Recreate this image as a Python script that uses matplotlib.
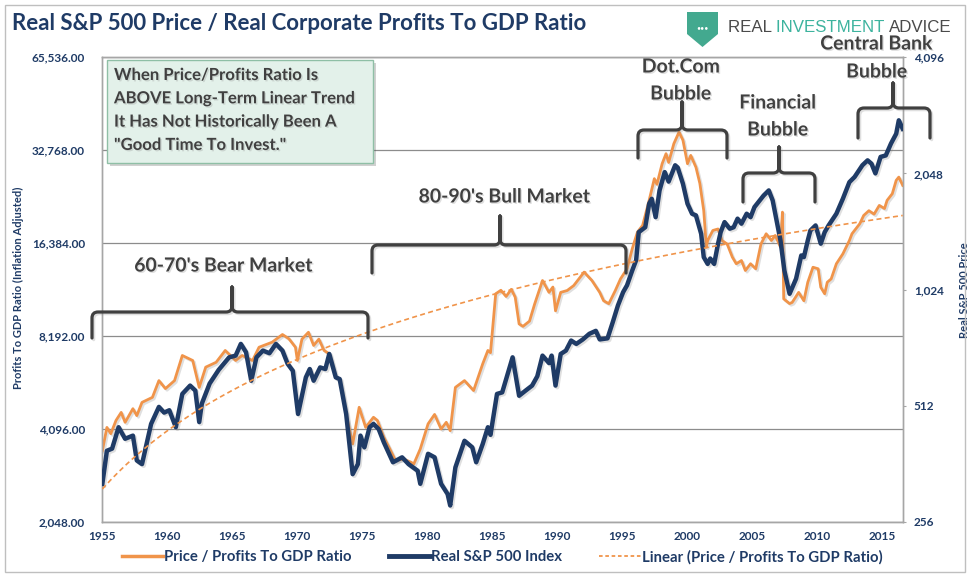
import numpy as np
import matplotlib
matplotlib.use("Agg")
import matplotlib.pyplot as plt
import matplotlib.patheffects as pe
from matplotlib.path import Path
from matplotlib.patches import PathPatch, Rectangle, Polygon
from matplotlib.lines import Line2D

plt.rcParams['font.family'] = ['Lato', 'DejaVu Sans']

# Price / Profits to GDP ratio (left axis)
ratio_years = [1955.05, 1955.4, 1955.7, 1956.1, 1956.5, 1956.8, 1957.4, 1957.7, 1958.1, 1958.9,
               1959.4, 1959.9, 1960.6, 1961.2, 1962.0, 1962.5, 1963.0, 1963.8, 1964.5, 1965.3,
               1965.8, 1966.6, 1967.1, 1968.1, 1968.9, 1969.4, 1969.9, 1970.05, 1970.4, 1970.9,
               1971.3, 1971.7, 1972.1, 1972.5, 1973.0, 1973.3, 1973.8, 1974.3, 1974.8, 1975.3,
               1975.9, 1976.2, 1976.7, 1977.1, 1977.6, 1978.2, 1978.8, 1979.0, 1979.5, 1980.1,
               1980.6, 1981.1, 1981.5, 1981.8, 1982.2, 1982.9, 1983.6, 1984.3, 1984.7, 1984.9,
               1985.3, 1985.7, 1986.1, 1986.5, 1986.8, 1987.1, 1987.4, 1987.9, 1988.3, 1988.9,
               1989.4, 1989.7, 1989.9, 1990.3, 1990.8, 1991.3, 1991.6, 1992.1, 1992.7, 1993.3,
               1993.6, 1994.0, 1994.5, 1994.9, 1995.4, 1995.8, 1996.2, 1996.6, 1997.1, 1997.5,
               1997.7, 1998.1, 1998.4, 1998.6, 1999.0, 1999.4, 1999.7, 2000.05, 2000.3, 2000.7,
               2001.0, 2001.3, 2001.5, 2001.6, 2002.0, 2002.4, 2002.7, 2003.1, 2003.5, 2003.8,
               2004.2, 2004.5, 2004.9, 2005.3, 2005.7, 2006.1, 2006.5, 2006.8, 2007.2, 2007.35,
               2007.45, 2007.9, 2008.1, 2008.6, 2009.0, 2009.3, 2009.7, 2010.1, 2010.3, 2010.6,
               2010.8, 2011.1, 2011.5, 2012.0, 2012.5, 2012.7, 2013.3, 2013.6, 2014.0, 2014.4,
               2014.8, 2015.2, 2015.4, 2015.8, 2016.1, 2016.3, 2016.6]
ratio_vals = [3480, 4140, 3950, 4360, 4630, 4300, 4760, 4520, 4990, 5180,
              5870, 5530, 5870, 7080, 6820, 5580, 6490, 6730, 7350, 6820,
              7080, 6820, 7530, 7815, 8280, 8020, 7530, 6820, 8000, 8420,
              7630, 8000, 7350, 7170, 6017, 5950, 4570, 3660, 4810, 4140,
              4465, 4360, 3845, 3565, 3230, 3270, 3190, 3150, 3525, 4250,
              4560, 4090, 4300, 4040, 5580, 5870, 5450, 6650, 7350, 7230,
              11220, 11520, 11000, 11600, 10940, 8960, 8800, 9150, 10410, 12390,
              11340, 11800, 9880, 11340, 11500, 11930, 12390, 13190, 12390, 11340,
              10650, 10420, 11500, 12540, 13520, 15700, 17780, 18700, 22530, 26490,
              25400, 29620, 31920, 29900, 34400, 37530, 35300, 29620, 31520, 28850,
              25570, 20860, 15900, 16700, 18000, 18200, 16700, 16270, 14750, 14040,
              14380, 13350, 14040, 13520, 16270, 17560, 16700, 17340, 15900, 20640,
              10800, 10430, 10520, 11340, 10650, 12230, 13680, 13520, 11780, 11220,
              12230, 12540, 14040, 15120, 16700, 17560, 18930, 20130, 20860, 20330,
              21700, 21200, 22530, 23680, 26160, 26800, 25200]

# Real S&P 500 index (right axis)
spx_years = [1955.05, 1955.4, 1955.8, 1956.3, 1956.8, 1957.4, 1957.7, 1958.1, 1958.8, 1959.4,
             1959.8, 1960.2, 1960.7, 1961.2, 1961.8, 1962.2, 1962.5, 1962.7, 1963.3, 1964.0,
             1964.8, 1965.3, 1965.7, 1966.1, 1966.5, 1966.9, 1967.4, 1967.9, 1968.4, 1968.9,
             1969.3, 1969.7, 1970.1, 1970.7, 1971.0, 1971.3, 1971.8, 1972.2, 1972.5, 1973.0,
             1973.3, 1973.8, 1974.3, 1974.7, 1974.9, 1975.2, 1975.6, 1975.9, 1976.3, 1976.7,
             1977.4, 1978.1, 1978.6, 1979.3, 1979.5, 1980.1, 1980.6, 1981.1, 1981.6, 1981.8,
             1982.2, 1982.9, 1983.5, 1983.8, 1984.3, 1984.7, 1984.9, 1985.4, 1985.8, 1986.6,
             1987.1, 1987.6, 1988.1, 1988.5, 1988.9, 1989.4, 1989.6, 1989.9, 1990.3, 1990.7,
             1991.1, 1991.5, 1992.0, 1992.5, 1993.0, 1993.3, 1993.9, 1994.3, 1994.7, 1995.1,
             1995.4, 1995.8, 1996.1, 1996.3, 1996.8, 1997.1, 1997.3, 1997.6, 1997.9, 1998.3,
             1998.6, 1999.1, 1999.3, 1999.7, 2000.05, 2000.4, 2000.7, 2001.1, 2001.3, 2001.6,
             2001.8, 2002.1, 2002.4, 2002.6, 2002.9, 2003.3, 2003.6, 2003.9, 2004.2, 2004.6,
             2004.9, 2005.2, 2005.6, 2005.9, 2006.3, 2006.6, 2006.8, 2007.2, 2007.5, 2007.9,
             2008.4, 2008.8, 2009.0, 2009.3, 2009.5, 2009.9, 2010.3, 2010.6, 2010.9, 2011.5,
             2012.0, 2012.5, 2012.9, 2013.5, 2013.9, 2014.2, 2014.5, 2014.9, 2015.3, 2015.7,
             2016.1, 2016.3, 2016.6]
spx_vals = [321, 391, 396, 450, 420, 428, 369, 361, 459, 508,
            491, 498, 450, 549, 577, 560, 464, 518, 584, 634,
            683, 690, 740, 704, 594, 683, 711, 700, 740, 711,
            657, 630, 487, 606, 637, 594, 643, 637, 697, 606,
            600, 487, 340, 361, 428, 399, 450, 459, 445, 411,
            365, 376, 361, 347, 321, 384, 376, 321, 302, 282,
            354, 415, 399, 365, 407, 450, 430, 549, 554, 683,
            543, 560, 577, 610, 690, 660, 690, 577, 697, 711,
            755, 740, 760, 786, 800, 760, 765, 842, 931, 1008,
            1050, 1147, 1220, 1442, 1485, 1709, 1760, 1577, 1850, 2064,
            1950, 2150, 2120, 1925, 1709, 1610, 1594, 1428, 1242, 1193,
            1232, 1193, 1346, 1442, 1531, 1472, 1485, 1563, 1517, 1610,
            1577, 1675, 1743, 1794, 1850, 1743, 1610, 1372, 1147, 998,
            1092, 1255, 1242, 1372, 1456, 1501, 1346, 1442, 1501, 1610,
            1761, 1944, 2005, 2150, 2214, 2170, 2048, 2260, 2280, 2448,
            2595, 2812, 2673]

# linear trend of the ratio, value at start and end
trend_ends = [2614, 20130]

left_ticks = [2048, 4096, 8192, 16384, 32768, 65536]
right_ticks = [256, 512, 1024, 2048, 4096]
year_ticks = list(range(1955, 2020, 5))

ORANGE = '#F0944A'
NAVY = '#1F3B66'
DARK = '#404040'
W, H = 970, 577

fig = plt.figure(figsize=(9.7, 5.77), dpi=100)
L, R, T, B = 101.7, 902.7, 57.3, 521.7
ax = fig.add_axes([L / W, 1 - B / H, (R - L) / W, (B - T) / H])
ax2 = ax.twinx()

shadow = [pe.SimpleLineShadow(offset=(1.2, -1.2), alpha=0.25, shadow_color='gray'), pe.Normal()]

ax.plot(ratio_years, ratio_vals, color=ORANGE, lw=2.0, path_effects=shadow, zorder=3)
ax2.plot(spx_years, spx_vals, color=NAVY, lw=3.2, path_effects=shadow, zorder=3)

tx = np.linspace(ratio_years[0], ratio_years[-1], 200)
ty = np.linspace(trend_ends[0], trend_ends[1], 200)
ax2.add_line(Line2D(tx, ty, transform=ax.transData, color=ORANGE, lw=1.2,
                    dashes=(3, 2), zorder=4))

ax.set_yscale('log', base=2)
ax2.set_yscale('log', base=2)
ax.set_ylim(2048, 65536)
ax2.set_ylim(256, 4096)
ax.set_xlim(1955.0, 2016.6)

ax.set_yticks(left_ticks)
ax.set_yticklabels([f"{v:,.2f}" for v in left_ticks])
ax.yaxis.set_minor_locator(matplotlib.ticker.NullLocator())
ax2.set_yticks(right_ticks)
ax2.set_yticklabels([f"{v:,}" for v in right_ticks])
ax2.yaxis.set_minor_locator(matplotlib.ticker.NullLocator())
ax.set_xticks(year_ticks)
ax.set_xticklabels([str(y) for y in year_ticks])

for a in (ax, ax2):
    for s in a.spines.values():
        s.set_color('#A6A6A6')
        s.set_linewidth(1.0)
ax.grid(axis='y', color='#8C8C8C', lw=0.9)
ax.set_axisbelow(True)

ax.tick_params(axis='y', length=0, pad=12, labelsize=8.5, labelcolor=NAVY)
ax.tick_params(axis='x', length=0, pad=7, labelsize=8.5, labelcolor=NAVY)
ax2.tick_params(axis='y', length=2, color='#A6A6A6', pad=6, labelsize=8.5, labelcolor=NAVY)
for lab in ax.get_yticklabels() + ax.get_xticklabels() + ax2.get_yticklabels():
    lab.set_fontweight('bold')

fig.text(18 / W, 1 - 288 / H, 'Profits To GDP Ratio (Inflation Adjusted)', rotation=90,
         ha='center', va='center', fontsize=8, fontweight='bold', color=NAVY)
fig.text(965 / W, 1 - 290 / H, 'Real S&P 500 Price', rotation=90,
         ha='center', va='center', fontsize=8, fontweight='bold', color=NAVY)

fig.text(12 / W, 1 - 24 / H, 'Real S&P 500 Price / Real Corporate Profits To GDP Ratio',
         ha='left', va='center', fontsize=16, fontweight='bold', color='#1F3B66')

# legend
handles = [Line2D([], [], color=ORANGE, lw=2.5),
           Line2D([], [], color=NAVY, lw=3.5),
           Line2D([], [], color=ORANGE, lw=1.3, dashes=(2, 1.5))]
fig.legend(handles, ['Price / Profits To GDP Ratio', 'Real S&P 500 Index',
                     'Linear (Price / Profits To GDP Ratio)'],
           loc='center', bbox_to_anchor=(502 / W, 1 - 557 / H), ncol=3, frameon=False,
           handlelength=2.8, handletextpad=0.05, columnspacing=2.5,
           labelcolor=NAVY, prop={'weight': 'bold', 'size': 10.7})

# overlay in pixel coordinates for annotations
ov = fig.add_axes([0, 0, 1, 1], zorder=10)
ov.set_xlim(0, W)
ov.set_ylim(H, 0)
ov.axis('off')
ov.patch.set_visible(False)

ov.add_patch(Rectangle((5, 5), 960, 567, fill=False, ec='#BFBFBF', lw=1))

txt_fx = [pe.SimplePatchShadow(offset=(1, -1), alpha=0.25, shadow_rgbFace='gray'), pe.Normal()]


def brace(x0, x1, xm, yh, ye, yt):
    r = 6
    verts = [(x0, ye), (x0, yh + r), (x0, yh), (x0 + r, yh),
             (xm - r, yh), (xm, yh), (xm, yh - r), (xm, yt),
             (xm, yh - r), (xm, yh), (xm + r, yh),
             (x1 - r, yh), (x1, yh), (x1, yh + r), (x1, ye)]
    codes = [Path.MOVETO, Path.LINETO, Path.CURVE3, Path.CURVE3,
             Path.LINETO, Path.CURVE3, Path.CURVE3, Path.LINETO,
             Path.LINETO, Path.CURVE3, Path.CURVE3,
             Path.LINETO, Path.CURVE3, Path.CURVE3, Path.LINETO]
    p = PathPatch(Path(verts, codes), fill=False, ec=DARK, lw=2.3, capstyle='round',
                  joinstyle='round', path_effects=shadow)
    ov.add_patch(p)


def label(x, ys, lines):
    for y, s in zip(ys, lines):
        ov.text(x, y, s, ha='center', va='center', fontsize=14, fontweight='bold',
                color=DARK, path_effects=txt_fx)


brace(92, 368, 232, 312, 338, 287)
label(224, [266], ["60-70's Bear Market"])
brace(372, 626, 500, 245, 273, 216)
label(505, [197], ["80-90's Bull Market"])
brace(638, 727, 682, 130, 158, 102)
label(681, [67, 94], ["Dot.Com", "Bubble"])
brace(743, 815, 779, 173, 202, 147)
label(778, [103, 130], ["Financial", "Bubble"])
brace(858, 930, 893, 108, 138, 83)
label(877, [44, 72], ["Central Bank", "Bubble"])

# note box
ov.add_patch(Rectangle((107, 60), 266, 103, fc='#E3F1EA', ec='#8FBFA6', lw=1,
                       path_effects=[pe.SimplePatchShadow(offset=(2, -2), alpha=0.25), pe.Normal()]))
note = ['When Price/Profits Ratio Is', 'ABOVE Long-Term Linear Trend',
        'It Has Not Historically Been A', '"Good Time To Invest."']
for i, line in enumerate(note):
    ov.text(114, 75 + i * 23.3, line, ha='left', va='center', fontsize=12,
            fontweight='bold', color=DARK, path_effects=txt_fx)

# logo
ov.add_patch(Polygon([(687, 12), (718, 12), (718, 34), (702.5, 47), (687, 34)],
                     closed=True, fc='#43A98F', ec='none'))
ov.text(702.5, 28, '\u2022\u2022\u2022', ha='center', va='center', fontsize=5, color='white')
renderer = fig.canvas.get_renderer()
x = 728
for word, col in [('REAL ', '#4A4A4A'), ('INVESTMENT ', '#3DB39E'), ('ADVICE', '#4A4A4A')]:
    t = ov.text(x, 27, word, ha='left', va='center', fontsize=12.2, color=col,
                family='Liberation Sans')
    bb = t.get_window_extent(renderer)
    x = bb.x1

fig.savefig('out.png', dpi=100)
